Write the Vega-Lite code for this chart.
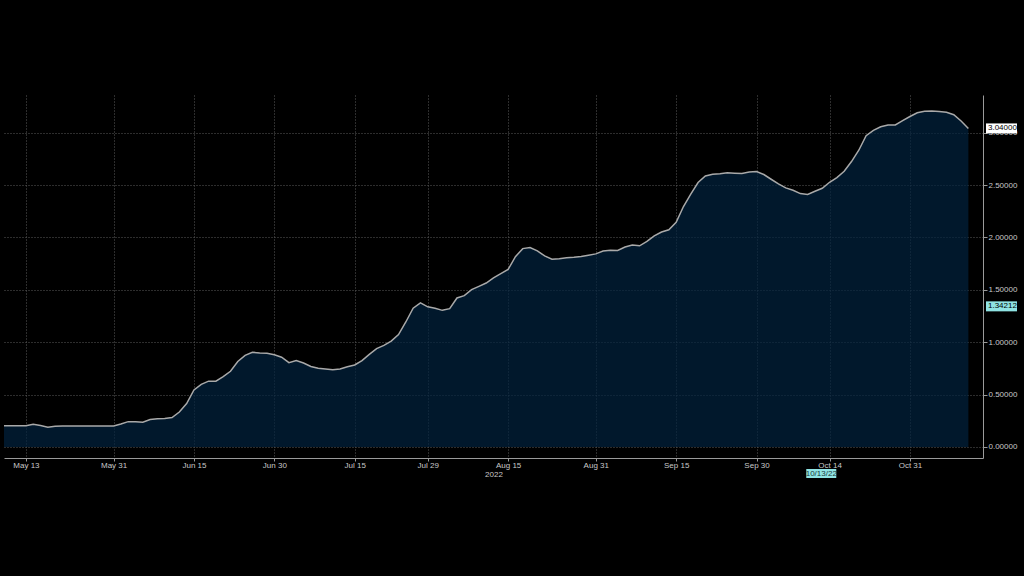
{
  "$schema": "https://vega.github.io/schema/vega-lite/v6.json",
  "width": 979,
  "height": 363,
  "autosize": "none",
  "padding": {"left": 4, "top": 95, "right": 41, "bottom": 118},
  "background": "#000000",
  "config": {
    "view": {"stroke": null},
    "font": "Liberation Sans"
  },
  "datasets": {
    "series": [
      {"date": "2022-05-10", "value": 0.203},
      {"date": "2022-05-11", "value": 0.203},
      {"date": "2022-05-12", "value": 0.203},
      {"date": "2022-05-13", "value": 0.203},
      {"date": "2022-05-16", "value": 0.217},
      {"date": "2022-05-17", "value": 0.205},
      {"date": "2022-05-18", "value": 0.188},
      {"date": "2022-05-19", "value": 0.198},
      {"date": "2022-05-20", "value": 0.2},
      {"date": "2022-05-23", "value": 0.2},
      {"date": "2022-05-24", "value": 0.2},
      {"date": "2022-05-25", "value": 0.2},
      {"date": "2022-05-26", "value": 0.2},
      {"date": "2022-05-27", "value": 0.2},
      {"date": "2022-05-30", "value": 0.2},
      {"date": "2022-05-31", "value": 0.2},
      {"date": "2022-06-01", "value": 0.219},
      {"date": "2022-06-02", "value": 0.242},
      {"date": "2022-06-03", "value": 0.24},
      {"date": "2022-06-06", "value": 0.236},
      {"date": "2022-06-07", "value": 0.262},
      {"date": "2022-06-08", "value": 0.27},
      {"date": "2022-06-09", "value": 0.272},
      {"date": "2022-06-10", "value": 0.281},
      {"date": "2022-06-13", "value": 0.334},
      {"date": "2022-06-14", "value": 0.415},
      {"date": "2022-06-15", "value": 0.544},
      {"date": "2022-06-16", "value": 0.597},
      {"date": "2022-06-17", "value": 0.628},
      {"date": "2022-06-20", "value": 0.628},
      {"date": "2022-06-21", "value": 0.671},
      {"date": "2022-06-22", "value": 0.723},
      {"date": "2022-06-23", "value": 0.816},
      {"date": "2022-06-24", "value": 0.875},
      {"date": "2022-06-27", "value": 0.904},
      {"date": "2022-06-28", "value": 0.897},
      {"date": "2022-06-29", "value": 0.894},
      {"date": "2022-06-30", "value": 0.88},
      {"date": "2022-07-01", "value": 0.857},
      {"date": "2022-07-04", "value": 0.805},
      {"date": "2022-07-05", "value": 0.825},
      {"date": "2022-07-06", "value": 0.802},
      {"date": "2022-07-07", "value": 0.768},
      {"date": "2022-07-08", "value": 0.751},
      {"date": "2022-07-11", "value": 0.745},
      {"date": "2022-07-12", "value": 0.737},
      {"date": "2022-07-13", "value": 0.744},
      {"date": "2022-07-14", "value": 0.765},
      {"date": "2022-07-15", "value": 0.783},
      {"date": "2022-07-18", "value": 0.825},
      {"date": "2022-07-19", "value": 0.884},
      {"date": "2022-07-20", "value": 0.939},
      {"date": "2022-07-21", "value": 0.969},
      {"date": "2022-07-22", "value": 1.011},
      {"date": "2022-07-25", "value": 1.073},
      {"date": "2022-07-26", "value": 1.193},
      {"date": "2022-07-27", "value": 1.325},
      {"date": "2022-07-28", "value": 1.376},
      {"date": "2022-07-29", "value": 1.338},
      {"date": "2022-08-01", "value": 1.324},
      {"date": "2022-08-02", "value": 1.304},
      {"date": "2022-08-03", "value": 1.32},
      {"date": "2022-08-04", "value": 1.422},
      {"date": "2022-08-05", "value": 1.444},
      {"date": "2022-08-08", "value": 1.502},
      {"date": "2022-08-09", "value": 1.533},
      {"date": "2022-08-10", "value": 1.565},
      {"date": "2022-08-11", "value": 1.613},
      {"date": "2022-08-12", "value": 1.654},
      {"date": "2022-08-15", "value": 1.694},
      {"date": "2022-08-16", "value": 1.816},
      {"date": "2022-08-17", "value": 1.893},
      {"date": "2022-08-18", "value": 1.904},
      {"date": "2022-08-19", "value": 1.872},
      {"date": "2022-08-22", "value": 1.823},
      {"date": "2022-08-23", "value": 1.792},
      {"date": "2022-08-24", "value": 1.797},
      {"date": "2022-08-25", "value": 1.806},
      {"date": "2022-08-26", "value": 1.81},
      {"date": "2022-08-29", "value": 1.817},
      {"date": "2022-08-30", "value": 1.83},
      {"date": "2022-08-31", "value": 1.843},
      {"date": "2022-09-01", "value": 1.87},
      {"date": "2022-09-02", "value": 1.877},
      {"date": "2022-09-05", "value": 1.876},
      {"date": "2022-09-06", "value": 1.908},
      {"date": "2022-09-07", "value": 1.928},
      {"date": "2022-09-08", "value": 1.92},
      {"date": "2022-09-09", "value": 1.962},
      {"date": "2022-09-12", "value": 2.015},
      {"date": "2022-09-13", "value": 2.052},
      {"date": "2022-09-14", "value": 2.073},
      {"date": "2022-09-15", "value": 2.144},
      {"date": "2022-09-16", "value": 2.295},
      {"date": "2022-09-19", "value": 2.414},
      {"date": "2022-09-20", "value": 2.524},
      {"date": "2022-09-21", "value": 2.586},
      {"date": "2022-09-22", "value": 2.602},
      {"date": "2022-09-23", "value": 2.607},
      {"date": "2022-09-26", "value": 2.616},
      {"date": "2022-09-27", "value": 2.613},
      {"date": "2022-09-28", "value": 2.61},
      {"date": "2022-09-29", "value": 2.624},
      {"date": "2022-09-30", "value": 2.628},
      {"date": "2022-10-03", "value": 2.6},
      {"date": "2022-10-04", "value": 2.555},
      {"date": "2022-10-05", "value": 2.511},
      {"date": "2022-10-06", "value": 2.473},
      {"date": "2022-10-07", "value": 2.45},
      {"date": "2022-10-10", "value": 2.418},
      {"date": "2022-10-11", "value": 2.41},
      {"date": "2022-10-12", "value": 2.441},
      {"date": "2022-10-13", "value": 2.469},
      {"date": "2022-10-14", "value": 2.526},
      {"date": "2022-10-17", "value": 2.571},
      {"date": "2022-10-18", "value": 2.631},
      {"date": "2022-10-19", "value": 2.724},
      {"date": "2022-10-20", "value": 2.832},
      {"date": "2022-10-21", "value": 2.97},
      {"date": "2022-10-24", "value": 3.022},
      {"date": "2022-10-25", "value": 3.056},
      {"date": "2022-10-26", "value": 3.073},
      {"date": "2022-10-27", "value": 3.073},
      {"date": "2022-10-28", "value": 3.114},
      {"date": "2022-10-31", "value": 3.154},
      {"date": "2022-11-01", "value": 3.189},
      {"date": "2022-11-02", "value": 3.204},
      {"date": "2022-11-03", "value": 3.206},
      {"date": "2022-11-04", "value": 3.202},
      {"date": "2022-11-07", "value": 3.194},
      {"date": "2022-11-08", "value": 3.171},
      {"date": "2022-11-09", "value": 3.111},
      {"date": "2022-11-10", "value": 3.04}
    ],
    "tags": [
      {"label": "3.04000", "value": 3.04, "kind": "last"},
      {"label": "1.34212", "value": 1.34212, "kind": "other"}
    ],
    "cursor": [
      {"date": "2022-10-13", "label": "10/13/22"}
    ]
  },
  "layer": [
    {
      "data": {"name": "series"},
      "mark": {
        "type": "area",
        "color": "#02223f",
        "line": {"color": "#a9a9a9", "strokeWidth": 1.5},
        "clip": true
      },
      "encoding": {
        "x": {
          "field": "date",
          "type": "ordinal",
          "sort": "ascending",
          "scale": {"type": "point", "padding": 0, "domain": {"unionWith": ["2022-11-11", "2022-11-14"]}},
          "axis": {
            "values": ["2022-05-13", "2022-05-31", "2022-06-15", "2022-06-30", "2022-07-15", "2022-07-29", "2022-08-15", "2022-08-31", "2022-09-15", "2022-09-30", "2022-10-14", "2022-10-31"],
            "labelExpr": "utcFormat(toDate(datum.value), '%b %d')",
            "labelAngle": 0,
            "labelFontSize": 8,
            "labelColor": "#c8c8c8",
            "labelPadding": 0,
            "tickSize": 3,
            "tickColor": "#9a9a9a",
            "domainColor": "#9a9a9a",
            "grid": true,
            "gridColor": "#5a5a5a",
            "gridDash": [1, 2],
            "gridWidth": 1,
            "title": "2022",
            "titleFontSize": 8,
            "titleFontWeight": "normal",
            "titleColor": "#c8c8c8",
            "titlePadding": 1
          }
        },
        "y": {
          "field": "value",
          "type": "quantitative",
          "scale": {"domain": [-0.105, 3.359], "nice": false, "zero": false},
          "axis": {
            "orient": "right",
            "values": [0, 0.5, 1, 1.5, 2, 2.5, 3],
            "format": ".5f",
            "labelFontSize": 8,
            "labelColor": "#c8c8c8",
            "labelPadding": 1,
            "tickSize": 4,
            "tickColor": "#9a9a9a",
            "domainColor": "#9a9a9a",
            "grid": true,
            "gridColor": "#5a5a5a",
            "gridDash": [1, 2],
            "gridWidth": 1,
            "title": null
          }
        }
      }
    },
    {
      "data": {"name": "tags"},
      "mark": {"type": "rect", "xOffset": 3, "x2Offset": 34, "yOffset": -5, "y2Offset": 5},
      "encoding": {
        "x": {"datum": "2022-11-14", "type": "ordinal"},
        "x2": {"datum": "2022-11-14"},
        "y": {"field": "value", "type": "quantitative"},
        "y2": {"field": "value"},
        "color": {
          "field": "kind",
          "type": "nominal",
          "scale": {"domain": ["last", "other"], "range": ["#ffffff", "#8fe3e3"]},
          "legend": null
        }
      }
    },
    {
      "data": {"name": "tags"},
      "mark": {"type": "text", "align": "left", "baseline": "middle", "dx": 5, "fontSize": 8, "color": "#000000"},
      "encoding": {
        "x": {"datum": "2022-11-14", "type": "ordinal"},
        "y": {"field": "value", "type": "quantitative"},
        "text": {"field": "label"}
      }
    },
    {
      "data": {"name": "cursor"},
      "mark": {"type": "rect", "color": "#8fe3e3", "xOffset": -16, "x2Offset": 14, "yOffset": 11, "y2Offset": 20},
      "encoding": {
        "x": {"field": "date", "type": "ordinal"},
        "x2": {"field": "date"},
        "y": {"datum": -0.105, "type": "quantitative"},
        "y2": {"datum": -0.105}
      }
    },
    {
      "data": {"name": "cursor"},
      "mark": {"type": "text", "align": "center", "baseline": "middle", "dx": -1, "dy": 15.5, "fontSize": 8, "color": "#1a3a3a"},
      "encoding": {
        "x": {"field": "date", "type": "ordinal"},
        "y": {"datum": -0.105, "type": "quantitative"},
        "text": {"field": "label"}
      }
    }
  ]
}
